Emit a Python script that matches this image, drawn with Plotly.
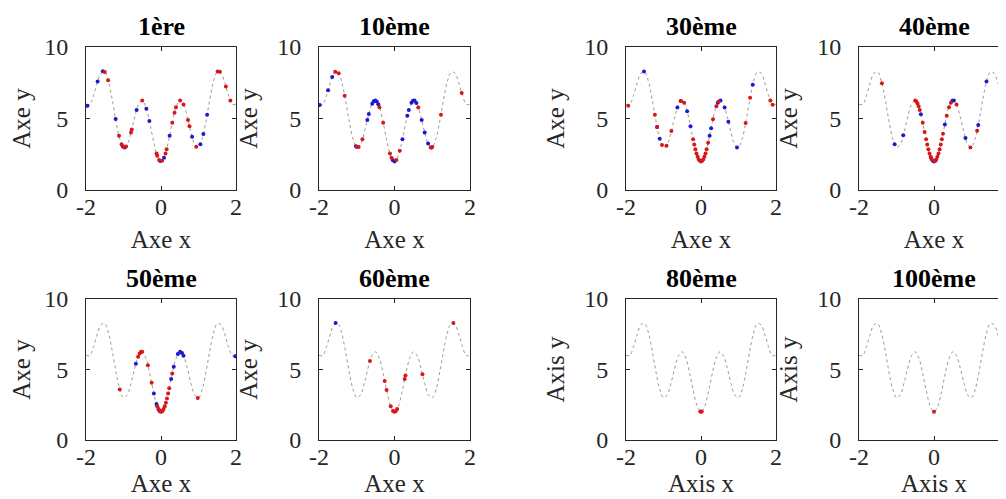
import plotly.graph_objects as go

# ---------------- data ----------------
titles = ["1ère", "10ème", "30ème", "40ème", "50ème", "60ème", "80ème", "100ème"]
x_labels = ["Axe x"] * 6 + ["Axis x"] * 2
y_labels = ["Axe y"] * 6 + ["Axis y"] * 2

x_ticks = [-2, 0, 2]
x_tick_text = ["-2", "0", "2"]
y_ticks = [0, 5, 10]
y_tick_text = ["0", "5", "10"]

curve_x = [-2.0, -1.9, -1.8, -1.7, -1.6, -1.5, -1.4, -1.3, -1.2, -1.1, -1.0,
           -0.9, -0.8, -0.7, -0.6, -0.5, -0.4, -0.3, -0.2, -0.1, 0.0,
           0.1, 0.2, 0.3, 0.4, 0.5, 0.6, 0.7, 0.8, 0.9, 1.0,
           1.1, 1.2, 1.3, 1.4, 1.5, 1.6, 1.7, 1.8, 1.9, 2.0]
curve_y = [6.00, 5.99, 6.62, 7.51, 8.18, 8.25, 7.58, 6.31, 4.82, 3.59, 3.00,
           3.19, 4.02, 5.11, 5.98, 6.25, 5.78, 4.71, 3.42, 2.39, 2.00,
           2.39, 3.42, 4.71, 5.78, 6.25, 5.98, 5.11, 4.02, 3.19, 3.00,
           3.59, 4.82, 6.31, 7.58, 8.25, 8.18, 7.51, 6.62, 5.99, 6.00]

# generation 1
g1_blue_x = [-1.96, -1.69, -1.55, -1.21, -1.02, -0.97, -0.65, -0.39, -0.31, -0.02, 0.08, 0.23, 0.83, 1.05, 1.13, 1.23]
g1_blue_y = [5.90, 7.59, 8.30, 4.97, 3.06, 2.98, 5.60, 5.69, 4.83, 2.02, 2.25, 3.80, 3.72, 3.20, 3.91, 5.26]
g1_red_x = [-1.50, -1.41, -1.12, -1.05, -1.00, -0.93, -0.80, -0.78, -0.50, -0.12, -0.10, -0.05, 0.03, 0.12,
            0.15, 0.30, 0.36, 0.40, 0.51, 0.60, 0.72, 0.76, 0.94, 1.51, 1.57, 1.73, 1.85]
g1_red_y = [8.25, 7.68, 3.80, 3.20, 3.00, 3.05, 4.02, 4.23, 6.25, 2.56, 2.39, 2.10, 2.04, 2.56,
            2.85, 4.71, 5.40, 5.78, 6.26, 5.98, 4.89, 4.45, 3.02, 8.28, 8.27, 7.24, 6.25]

# generation 10
g10_blue_x = [-1.98, -1.76, -1.65, -1.02, -0.72, -0.68, -0.59, -0.55, -0.51, -0.47, -0.43, -0.05, 0.00,
              0.21, 0.34, 0.38, 0.45, 0.49, 0.53, 0.58, 0.72, 0.80, 0.89, 0.98]
g10_blue_y = [5.94, 6.97, 7.90, 3.06, 4.89, 5.31, 6.04, 6.20, 6.26, 6.19, 6.00, 2.10, 2.00,
              3.55, 5.19, 5.60, 6.10, 6.24, 6.25, 6.09, 4.89, 4.02, 3.25, 2.98]
g10_red_x = [-1.57, -1.48, -1.32, -1.00, -0.95, -0.85, -0.40, -0.30, -0.12, -0.08, 0.05, 0.14, 0.63, 0.96, 1.00, 1.23, 1.78]
g10_red_y = [8.27, 8.17, 6.59, 3.00, 3.00, 3.55, 5.78, 4.71, 2.56, 2.25, 2.10, 2.75, 5.77, 2.98, 3.00, 5.26, 6.79]

# generation 30
g30_blue_x = [-1.52, -1.17, -1.10, -0.63, -0.54, -0.37, -0.28, 0.23, 0.27, 0.45, 0.52, 0.63, 0.73, 0.96, 1.38]
g30_blue_y = [8.29, 4.40, 3.59, 5.77, 6.23, 5.51, 4.45, 3.80, 4.32, 6.10, 6.25, 5.77, 4.78, 2.98, 7.36]
g30_red_x = [-1.94, -1.23, -1.17, -1.04, -0.92, -0.79, -0.54, -0.45, -0.21, -0.18, -0.15, -0.12, -0.09, -0.06,
             -0.03, 0.00, 0.03, 0.06, 0.09, 0.12, 0.15, 0.19, 0.32, 0.41, 0.47, 1.19, 1.31, 1.85, 1.91]
g30_red_y = [5.90, 5.26, 4.40, 3.14, 3.09, 4.13, 6.23, 6.10, 3.55, 3.18, 2.85, 2.56, 2.32, 2.14,
             2.04, 2.00, 2.04, 2.14, 2.32, 2.56, 2.85, 3.30, 4.95, 5.86, 6.19, 4.68, 6.45, 6.25, 5.96]

# generation 40
g40_blue_x = [-1.05, -0.82, -0.35, -0.08, -0.04, 0.00, 0.04, 0.29, 0.49, 0.53, 0.84, 1.18, 1.40]
g40_blue_y = [3.20, 3.82, 5.30, 2.25, 2.06, 2.00, 2.06, 4.58, 6.24, 6.25, 3.63, 4.54, 7.58]
g40_red_x = [-1.39, -0.50, -0.47, -0.44, -0.41, -0.38, -0.30, -0.25, -0.21, -0.18, -0.15, -0.12, -0.09, -0.06,
             0.02, 0.06, 0.09, 0.12, 0.15, 0.18, 0.21, 0.24, 0.34, 0.40, 0.45, 0.60, 0.97, 1.15]
g40_red_y = [7.47, 6.25, 6.19, 6.05, 5.86, 5.60, 4.71, 4.06, 3.55, 3.18, 2.85, 2.56, 2.32, 2.14,
             2.02, 2.14, 2.32, 2.56, 2.85, 3.18, 3.55, 3.93, 5.19, 5.78, 6.10, 5.98, 2.98, 4.15]

# generation 50
g50_blue_x = [-0.67, -0.19, -0.12, -0.07, -0.03, 0.27, 0.34, 0.45, 0.51, 0.56, 0.60, 1.98]
g50_blue_y = [5.41, 3.30, 2.56, 2.19, 2.04, 4.32, 5.19, 6.10, 6.26, 6.17, 5.98, 5.94]
g50_red_x = [-1.10, -0.61, -0.57, -0.53, -0.50, -0.35, -0.25, -0.10, -0.06, -0.02, 0.01, 0.04, 0.07, 0.10,
             0.13, 0.16, 0.19, 0.22, 0.30, 0.98]
g50_red_y = [3.59, 5.91, 6.13, 6.25, 6.25, 5.30, 4.06, 2.39, 2.14, 2.02, 2.00, 2.06, 2.19, 2.39,
             2.65, 2.95, 3.30, 3.67, 4.71, 2.98]

# generation 60
g60_blue_x = [-1.56]
g60_blue_y = [8.29]
g60_red_x = [-0.65, -0.26, -0.21, -0.10, -0.04, 0.00, 0.03, 0.07, 0.27, 0.29, 0.74, 1.56]
g60_red_y = [5.60, 4.19, 3.55, 2.39, 2.06, 2.00, 2.04, 2.19, 4.32, 4.58, 4.67, 8.29]

# generation 80
g80_blue_x = []
g80_blue_y = []
g80_red_x = [-0.02, 0.00, 0.02]
g80_red_y = [2.02, 2.00, 2.02]

# generation 100
g100_blue_x = []
g100_blue_y = []
g100_red_x = [0.00]
g100_red_y = [2.00]

blue_sets = [(g1_blue_x, g1_blue_y), (g10_blue_x, g10_blue_y), (g30_blue_x, g30_blue_y), (g40_blue_x, g40_blue_y),
             (g50_blue_x, g50_blue_y), (g60_blue_x, g60_blue_y), (g80_blue_x, g80_blue_y), (g100_blue_x, g100_blue_y)]
red_sets = [(g1_red_x, g1_red_y), (g10_red_x, g10_red_y), (g30_red_x, g30_red_y), (g40_red_x, g40_red_y),
            (g50_red_x, g50_red_y), (g60_red_x, g60_red_y), (g80_red_x, g80_red_y), (g100_red_x, g100_red_y)]

# ---------------- layout ----------------
W, H = 1006, 499
col_px = [(78, 228), (311, 462), (618, 768), (851, 1001)]
row_px = [(39, 182), (291, 432)]
x_title_standoff = [11, 4]

FONT = "Liberation Serif, Times New Roman, serif"
AX = "#262626"

fig = go.Figure()
layout = dict(
    width=W, height=H,
    margin=dict(l=0, r=0, t=0, b=0),
    paper_bgcolor="white", plot_bgcolor="white",
    showlegend=False,
    font=dict(family=FONT, size=24, color="black"),
)
annotations = []

for i in range(8):
    r, c = divmod(i, 4)
    x0, x1 = col_px[c]
    top, bot = row_px[r]
    n = "" if i == 0 else str(i + 1)
    xa, ya = "x" + n, "y" + n

    fig.add_trace(go.Scatter(x=curve_x, y=curve_y, mode="lines",
                             line=dict(color="#9a9a9a", width=1, dash="dot", shape="spline"),
                             xaxis=xa, yaxis=ya, hoverinfo="skip"))
    bx, by = blue_sets[i]
    if bx:
        fig.add_trace(go.Scatter(x=bx, y=by, mode="markers",
                                 marker=dict(color="#1a1ad0", size=4),
                                 xaxis=xa, yaxis=ya))
    rx, ry = red_sets[i]
    fig.add_trace(go.Scatter(x=rx, y=ry, mode="markers",
                             marker=dict(color="#d81818", size=4),
                             xaxis=xa, yaxis=ya))

    common = dict(showline=True, mirror="ticks", linecolor=AX, linewidth=1,
                  ticks="inside", ticklen=4, tickwidth=1, tickcolor=AX,
                  showgrid=False, zeroline=False, automargin=False,
                  tickfont=dict(family=FONT, size=24, color=AX))
    layout["xaxis" + n] = dict(common, domain=[x0 / W, x1 / W], range=[-2, 2],
                               tickvals=x_ticks, ticktext=x_tick_text, anchor=ya,
                               ticklabelstandoff=-5,
                               title=dict(text=x_labels[i], standoff=x_title_standoff[r],
                                          font=dict(family=FONT, size=25, color=AX)))
    layout["yaxis" + n] = dict(common, domain=[1 - bot / H, 1 - top / H], range=[0, 10],
                               tickvals=y_ticks, ticktext=y_tick_text, anchor=xa,
                               ticklabelstandoff=12,
                               title=dict(text=y_labels[i], standoff=12,
                                          font=dict(family=FONT, size=25, color=AX)))
    annotations.append(dict(text="<b>" + titles[i] + "</b>", xref="paper", yref="paper",
                            x=(x0 + x1) / 2 / W, y=1 - top / H, xanchor="center", yanchor="bottom",
                            yshift=4, showarrow=False,
                            font=dict(family=FONT, size=26, color="black")))

layout["annotations"] = annotations
fig.update_layout(**layout)
fig.write_html("out.html")
